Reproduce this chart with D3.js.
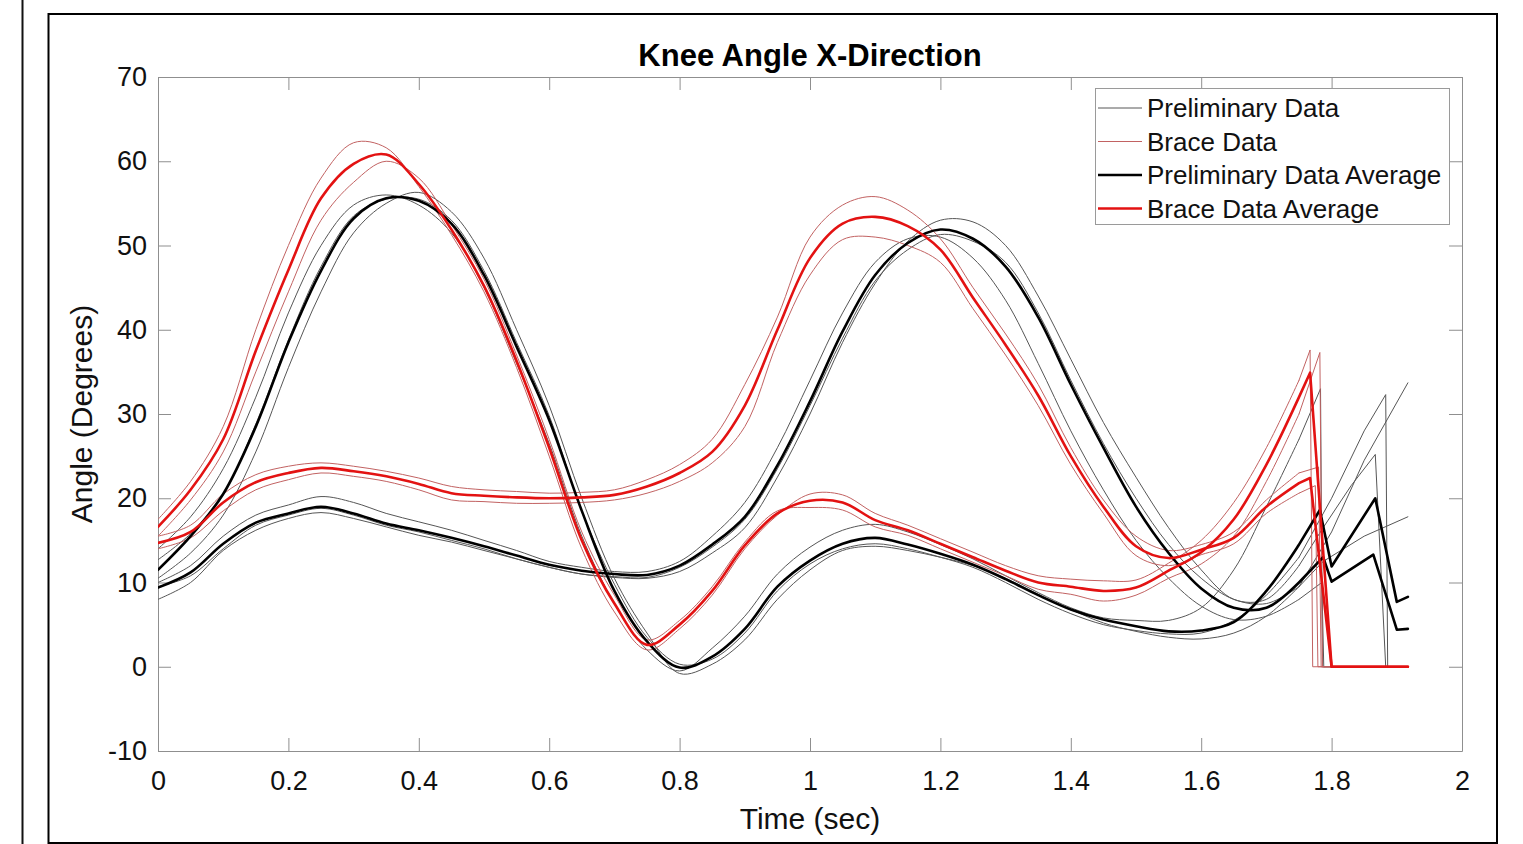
<!DOCTYPE html>
<html><head><meta charset="utf-8">
<script src="https://cdn.jsdelivr.net/npm/d3@7"></script>
<style>
body{margin:0;background:#fff}
svg{display:block}
text{font-family:"Liberation Sans",Arial,Helvetica,sans-serif}
</style>
</head><body>
<svg id="chart" width="1523" height="844"></svg>
<script>
// ---------- DATA ----------
const chartTitle = "Knee Angle X-Direction";
const xAxisLabel = "Time (sec)";
const yAxisLabel = "Angle (Degrees)";
const xTickValues = [0,0.2,0.4,0.6,0.8,1,1.2,1.4,1.6,1.8,2];
const xTickLabels = ["0","0.2","0.4","0.6","0.8","1","1.2","1.4","1.6","1.8","2"];
const yTickValues = [-10,0,10,20,30,40,50,60,70];
const yTickLabels = ["-10","0","10","20","30","40","50","60","70"];
const legendLabels = ["Preliminary Data","Brace Data","Preliminary Data Average","Brace Data Average"];

// common sample times (sec)
const timeGrid = [0,0.05,0.1,0.15,0.2,0.25,0.3,0.35,0.4,0.45,0.5,0.55,0.6,0.65,0.7,0.75,0.8,0.85,0.9,0.95,1,1.05,1.1,1.15,1.2,1.25,1.3,1.35,1.4,1.45,1.5,1.55,1.6,1.65,1.7,1.75];

// Preliminary trials (thin black) – curve family A (large early peak)
const prelimTrial1A = [14.0,17.8,23.5,32.0,42.0,50.0,54.8,56.0,54.8,51.5,45.0,36.0,26.5,15.5,7.5,2.0,-0.5,2.2,6.0,11.0,14.2,16.2,16.9,16.0,14.5,12.8,10.8,8.8,7.0,5.8,5.5,5.5,7.0,11.5,19.0,27.0];
const prelimTrial1AEnd = [[1.783,33.0],[1.786,0],[1.917,0]];
const prelimTrial2A = [12.7,15.8,20.5,28.8,38.8,47.5,53.5,55.5,55.5,53.0,47.0,38.5,29.8,18.5,9.8,3.5,0.3,0.9,4.0,9.0,12.2,14.0,14.6,14.0,13.0,11.8,10.0,8.0,6.3,5.0,4.3,3.9,4.0,5.5,8.5,13.0];
const prelimTrial2AEnd = [[1.80,20.0],[1.85,28.0],[1.883,32.3],[1.886,0],[1.917,0]];
const prelimTrial3A = [10.5,13.5,18.0,25.5,35.5,44.5,51.5,55.0,56.3,54.0,48.5,40.0,31.0,20.0,10.5,4.0,-0.8,0.3,3.2,8.0,11.5,13.8,14.3,13.8,13.0,12.0,10.5,8.6,6.8,5.2,4.2,3.5,3.3,4.0,6.0,9.5];
const prelimTrial3AEnd = [[1.80,16.0],[1.85,24.5],[1.917,33.7]];

// Preliminary trials (thin black) – curve family B (large late peak)
const prelimTrial1B = [10.0,12.0,15.5,18.0,19.2,20.2,19.5,18.2,17.2,16.2,15.0,13.8,12.5,11.8,11.3,11.3,12.5,15.5,19.5,26.0,34.0,42.0,48.0,50.8,51.0,48.5,43.5,36.0,28.0,21.0,15.0,10.5,7.2,5.6,6.0,8.0];
const prelimTrial1BEnd = [[1.785,10.0],[1.788,0],[1.917,0]];
const prelimTrial2B = [9.5,10.8,14.0,16.8,18.0,18.8,18.0,16.8,16.0,15.0,14.0,12.8,11.8,11.0,10.6,10.5,11.3,13.5,16.5,22.5,30.0,38.5,45.5,50.5,53.0,52.8,50.0,44.0,36.5,29.0,22.5,16.5,11.5,8.0,8.0,12.0];
const prelimTrial2BEnd = [[1.787,16.5],[1.83,21.5],[1.867,25.2],[1.883,0],[1.917,0]];
const prelimTrial3B = [8.0,10.0,13.8,16.2,17.6,18.3,17.6,16.6,15.6,14.8,13.8,12.8,11.8,11.0,10.7,10.6,11.8,14.2,17.5,23.5,31.0,39.0,45.8,49.5,51.3,50.5,48.0,42.0,34.0,26.5,20.0,14.5,10.5,8.0,7.5,9.5];
const prelimTrial3BEnd = [[1.787,12.5],[1.85,15.5],[1.917,17.8]];

// Brace trials (thin red)
const braceTrial1A = [17.5,22.0,28.5,40.0,50.0,58.0,62.2,61.6,57.0,51.3,44.5,35.5,25.0,14.0,6.5,2.0,4.5,8.5,14.0,18.0,20.5,20.4,18.2,16.8,15.2,13.6,12.0,10.8,10.4,10.2,10.3,12.3,15.0,19.5,26.0,34.0];
const braceTrial1AEnd = [[1.767,37.6],[1.771,0],[1.917,0]];
const braceTrial2A = [15.5,19.8,25.5,35.0,44.5,53.0,57.5,60.0,58.0,52.5,46.0,37.0,27.0,16.0,8.5,3.2,5.5,9.5,14.8,18.5,18.9,18.6,16.6,15.6,14.0,12.4,10.8,9.2,8.6,7.8,8.5,10.5,12.2,15.5,22.0,30.0];
const braceTrial2AEnd = [[1.782,37.3],[1.786,0],[1.917,0]];
const braceTrial1B = [15.5,16.8,20.5,22.8,23.8,24.2,23.8,23.2,22.4,21.4,21.0,20.8,20.6,20.7,21.0,22.2,24.0,27.0,33.5,41.5,51.0,54.8,55.8,54.2,50.8,45.0,39.5,33.5,26.0,19.8,15.5,13.8,14.5,16.0,19.8,23.0];
const braceTrial1BEnd = [[1.78,23.7],[1.784,0],[1.917,0]];
const braceTrial2B = [14.0,15.3,18.5,21.0,22.2,23.0,22.6,22.0,21.0,19.8,19.6,19.4,19.4,19.5,19.8,20.6,22.0,24.2,28.5,38.5,46.5,50.7,51.0,50.0,48.0,42.5,37.0,31.0,24.0,18.2,13.2,12.0,13.3,14.6,18.2,20.6];
const braceTrial2BEnd = [[1.775,21.5],[1.779,0],[1.917,0]];

// Averages (thick)
const prelimAvgA = [11.5,15.5,20.5,28.5,38.5,47.0,53.2,55.6,55.3,52.6,46.5,38.0,29.3,18.5,9.0,3.0,-0.1,1.2,4.5,9.5,12.6,14.6,15.3,14.5,13.4,12.1,10.4,8.5,6.8,5.6,4.8,4.2,4.3,5.3,9.0,14.5];
const prelimAvgAEnd = [[1.782,18.6],[1.800,11.9],[1.867,20.0],[1.900,7.7],[1.917,8.3]];
const prelimAvgB = [9.4,11.2,14.6,17.1,18.2,19.0,18.2,17.0,16.2,15.3,14.3,13.2,12.1,11.4,11.0,10.9,12.0,14.5,17.8,23.9,31.5,39.8,46.5,50.3,51.9,50.8,47.5,41.5,33.5,26.0,19.0,13.5,9.3,7.0,7.0,10.0];
const prelimAvgBEnd = [[1.787,13.0],[1.800,10.1],[1.864,13.3],[1.900,4.4],[1.917,4.5]];
const braceAvgA = [16.6,21.0,27.0,37.5,47.1,55.6,59.7,60.8,57.3,51.9,45.2,36.3,26.0,15.0,7.5,2.6,5.0,9.0,14.4,18.2,19.7,19.5,17.4,16.2,14.6,13.0,11.4,10.0,9.5,9.0,9.4,11.4,13.6,17.5,24.0,32.0];
const braceAvgAEnd = [[1.767,34.9],[1.800,0],[1.917,0]];
const braceAvgB = [14.7,16.0,19.5,21.9,23.0,23.6,23.2,22.6,21.7,20.6,20.3,20.1,20.0,20.1,20.4,21.4,23.0,25.5,31.0,40.0,48.5,52.6,53.4,52.3,49.5,43.8,38.2,32.2,25.0,19.0,14.3,12.9,13.9,15.3,19.0,21.8];
const braceAvgBEnd = [[1.767,22.4],[1.800,0],[1.917,0]];

// ---------- STYLE ----------
const colPrelimThin = "#565656", colBraceThin = "#c26262";
const colPrelimAvg = "#000000", colBraceAvg = "#e31212";
const axisCol = "#8f8f8f";

// ---------- DRAW ----------
const svg = d3.select("#chart");
const plot = {left:158, right:1462, top:77, bottom:751};
const x = d3.scaleLinear().domain([0,2]).range([plot.left, plot.right]);
const y = d3.scaleLinear().domain([-10,70]).range([plot.bottom, plot.top]);

// outer frames
svg.append("line").attr("x1",22.5).attr("x2",22.5).attr("y1",0).attr("y2",844)
  .attr("stroke","#111").attr("stroke-width",2);
svg.append("rect").attr("x",48.5).attr("y",14).attr("width",1448.5).attr("height",829)
  .attr("fill","none").attr("stroke","#000").attr("stroke-width",2);

// axes
function styleAxis(g){
  g.attr("font-size",null).attr("font-family",null);
  g.select(".domain").attr("stroke",axisCol).attr("stroke-width",1);
  g.selectAll(".tick line").attr("stroke",axisCol).attr("stroke-width",1);
  g.selectAll(".tick text").attr("fill","#111").attr("font-size",27);
}
const TS = -13;
svg.append("g").attr("transform",`translate(0,${plot.bottom})`)
  .call(d3.axisBottom(x).tickValues(xTickValues).tickFormat((d,i)=>xTickLabels[i]).tickSizeInner(TS).tickSizeOuter(0).tickPadding(20))
  .call(styleAxis);
svg.append("g").attr("transform",`translate(0,${plot.top})`)
  .call(d3.axisTop(x).tickValues(xTickValues).tickFormat("").tickSizeInner(TS).tickSizeOuter(0))
  .call(styleAxis);
svg.append("g").attr("transform",`translate(${plot.left},0)`)
  .call(d3.axisLeft(y).tickValues(yTickValues).tickFormat((d,i)=>yTickLabels[i]).tickSizeInner(TS).tickSizeOuter(0).tickPadding(11))
  .call(styleAxis);
svg.append("g").attr("transform",`translate(${plot.right},0)`)
  .call(d3.axisRight(y).tickValues(yTickValues).tickFormat("").tickSizeInner(TS).tickSizeOuter(0))
  .call(styleAxis);

// labels
svg.append("text").attr("x",(plot.left+plot.right)/2).attr("y",66).attr("text-anchor","middle")
  .attr("font-size",31).attr("font-weight","bold").attr("fill","#000").text(chartTitle);
svg.append("text").attr("x",(plot.left+plot.right)/2).attr("y",829).attr("text-anchor","middle")
  .attr("font-size",30).attr("fill","#111").text(xAxisLabel);
svg.append("text").attr("transform",`translate(92,${(plot.top+plot.bottom)/2}) rotate(-90)`).attr("text-anchor","middle")
  .attr("font-size",30).attr("fill","#111").text(yAxisLabel);

// clip
svg.append("defs").append("clipPath").attr("id","clip").append("rect")
  .attr("x",plot.left).attr("y",plot.top).attr("width",plot.right-plot.left).attr("height",plot.bottom-plot.top);

const smooth = d3.line().x(d=>x(d[0])).y(d=>y(d[1])).curve(d3.curveCatmullRom.alpha(0.5));
const straight = d3.line().x(d=>x(d[0])).y(d=>y(d[1]));
function pathFor(vals, tail){
  const body = timeGrid.map((t,i)=>[t, vals[i]]);
  return smooth(body) + straight([body[body.length-1]].concat(tail));
}

const layers = [
  {c:colPrelimThin, w:1, list:[[prelimTrial1A,prelimTrial1AEnd],[prelimTrial2A,prelimTrial2AEnd],[prelimTrial3A,prelimTrial3AEnd],[prelimTrial1B,prelimTrial1BEnd],[prelimTrial2B,prelimTrial2BEnd],[prelimTrial3B,prelimTrial3BEnd]]},
  {c:colBraceThin, w:1, list:[[braceTrial1A,braceTrial1AEnd],[braceTrial2A,braceTrial2AEnd],[braceTrial1B,braceTrial1BEnd],[braceTrial2B,braceTrial2BEnd]]},
  {c:colPrelimAvg, w:2.6, list:[[prelimAvgA,prelimAvgAEnd],[prelimAvgB,prelimAvgBEnd]]},
  {c:colBraceAvg, w:2.6, list:[[braceAvgA,braceAvgAEnd],[braceAvgB,braceAvgBEnd]]}
];
const gLines = svg.append("g").attr("clip-path","url(#clip)");
layers.forEach(L=>{
  L.list.forEach(([v,t])=>{
    gLines.append("path").attr("d",pathFor(v,t)).attr("fill","none")
      .attr("stroke",L.c).attr("stroke-width",L.w)
      .attr("stroke-linejoin","round").attr("stroke-linecap","round");
  });
});

// legend
const lg = svg.append("g");
lg.append("rect").attr("x",1095.5).attr("y",88.5).attr("width",354).attr("height",136)
  .attr("fill","#fff").attr("stroke","#9a9a9a").attr("stroke-width",1);
const legendStyles = [[colPrelimThin,1],[colBraceThin,1],[colPrelimAvg,2.6],[colBraceAvg,2.6]];
legendLabels.forEach((lab,i)=>{
  const cy = 108 + i*33.5;
  lg.append("line").attr("x1",1098).attr("x2",1142).attr("y1",cy).attr("y2",cy)
    .attr("stroke",legendStyles[i][0]).attr("stroke-width",legendStyles[i][1]);
  lg.append("text").attr("x",1147).attr("y",cy).attr("dy","0.35em")
    .attr("font-size",26).attr("fill","#111").text(lab);
});
</script>
</body></html>
